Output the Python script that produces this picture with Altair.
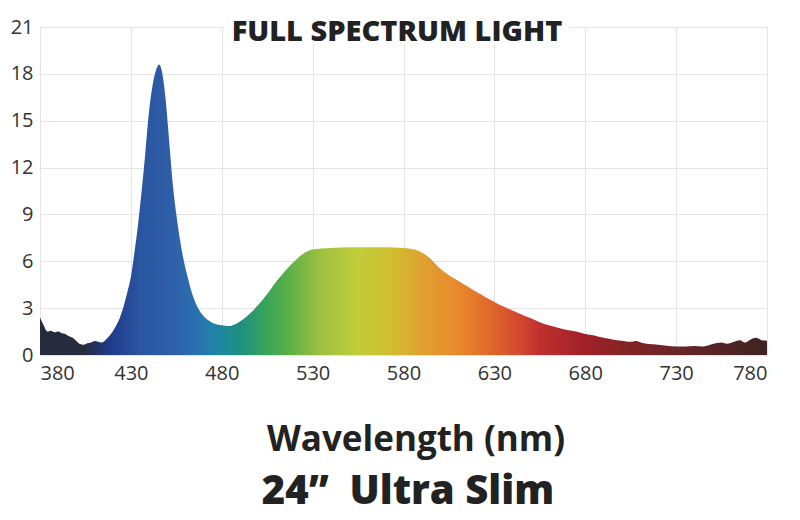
import altair as alt
import pandas as pd

# Spectrum
wavelength = [380, 382, 384, 386, 388, 390, 392, 394, 396, 398, 400, 402, 404, 406, 408,
              410, 412, 414, 416, 418, 420, 422, 424, 426, 428, 430, 432, 434, 436, 438,
              440, 442, 444, 445.5, 447, 449, 451, 453, 455, 457, 459, 461, 463, 465, 467,
              470, 473, 476, 480, 484, 488, 492, 496, 500, 505, 510, 515, 520, 525, 530,
              540, 550, 560, 570, 580, 586, 591, 595, 600, 605, 610, 615, 620, 625, 630,
              635, 640, 645, 650, 655, 660, 665, 670, 675, 680, 685, 690, 695, 700, 705,
              708, 711, 715, 720, 725, 730, 735, 740, 745, 750, 755, 758, 762, 765, 768,
              771, 774, 777, 780]
intensity = [2.4, 1.9, 1.5, 1.55, 1.45, 1.5, 1.4, 1.35, 1.2, 1.1, 0.9, 0.7, 0.65, 0.75, 0.8,
             0.9, 0.85, 0.8, 0.95, 1.2, 1.5, 1.9, 2.4, 3.1, 4.0, 5.0, 6.6, 8.4, 10.6, 13.0,
             15.6, 17.3, 18.3, 18.6, 18.2, 16.5, 13.8, 11.0, 9.0, 7.4, 6.1, 5.1, 4.2, 3.5, 3.0,
             2.5, 2.2, 2.0, 1.9, 1.85, 2.0, 2.3, 2.7, 3.2, 3.9, 4.7, 5.4, 6.0, 6.5, 6.75,
             6.85, 6.9, 6.9, 6.9, 6.85, 6.75, 6.5, 6.15, 5.55, 5.1, 4.75, 4.4, 4.05, 3.72, 3.4,
             3.1, 2.85, 2.6, 2.35, 2.1, 1.9, 1.75, 1.6, 1.5, 1.35, 1.25, 1.1, 1.0, 0.92, 0.85,
             0.9, 0.78, 0.7, 0.66, 0.6, 0.55, 0.55, 0.58, 0.55, 0.7, 0.8, 0.72, 0.85, 0.95, 0.8,
             1.0, 1.1, 0.95, 0.92]

x_ticks = [380, 430, 480, 530, 580, 630, 680, 730, 780]
y_ticks = [0, 3, 6, 9, 12, 15, 18, 21]

# Colour of the fill along the wavelength axis
stop_nm = [380, 405, 418, 435, 453, 466, 477, 490, 505, 517, 535, 554, 572, 591, 609, 627, 646, 655, 680, 700, 730, 760, 780]
stop_col = ["#262b3d", "#262b3d", "#1e3a8a", "#2a55a0", "#2f5fa8", "#2a70b0", "#1f85a5", "#1e9080",
            "#3aa558", "#5cb047", "#a0c040", "#bfcd3a", "#cfc030", "#e0a030", "#e88a2c", "#e06a2a",
            "#d04430", "#c0302e", "#a02028", "#862424", "#6a2424", "#502424", "#3e2222"]

df = pd.DataFrame({"wavelength": wavelength, "intensity": intensity})

FONT = "Open Sans"

gradient = alt.Gradient(
    gradient="linear",
    stops=[alt.GradientStop(color=c, offset=(n - 380) / 400) for n, c in zip(stop_nm, stop_col)],
    x1=0, x2=1, y1=1, y2=1,
)

area = alt.Chart(df).mark_area(color=gradient, interpolate="monotone").encode(
    x=alt.X("wavelength:Q", scale=alt.Scale(domain=[380, 780], nice=False, zero=False),
            axis=alt.Axis(values=x_ticks, title=None, grid=True, gridColor="#e4e4e4", gridWidth=1,
                          domain=False, ticks=False, labelFontSize=20, labelColor="#333333",
                          labelFont=FONT, labelPadding=8, format="d")),
    y=alt.Y("intensity:Q", scale=alt.Scale(domain=[0, 21], nice=False),
            axis=alt.Axis(values=y_ticks, title=None, grid=True, gridColor="#e4e4e4", gridWidth=1,
                          domain=False, ticks=False, labelFontSize=20, labelColor="#333333",
                          labelFont=FONT, labelPadding=7, format="d")),
)

one = alt.Data(values=[{"k": 1}])

title_bg = alt.Chart(one).mark_rect(color="white").encode(
    x=alt.value(184), x2=alt.value(529), y=alt.value(-12), y2=alt.value(17)
)
title = alt.Chart(one).mark_text(font=FONT, fontSize=29, fontWeight=800, color="#222222",
                                 baseline="middle", align="center").encode(
    x=alt.value(357), y=alt.value(5), text=alt.value("FULL SPECTRUM LIGHT")
)
xlabel = alt.Chart(one).mark_text(font=FONT, fontSize=35, fontWeight="bold", color="#222222",
                                  baseline="middle", align="center").encode(
    x=alt.value(376), y=alt.value(413), text=alt.value("Wavelength (nm)")
)
model = alt.Chart(one).mark_text(font=FONT, fontSize=40, fontWeight=800, color="#222222",
                                 baseline="middle", align="center").encode(
    x=alt.value(368), y=alt.value(465), text=alt.value("24\u201d\u00a0 Ultra Slim")
)

chart = alt.layer(area, title_bg, title, xlabel, model).properties(
    width=727, height=328,
    padding={"left": 40, "top": 27, "right": 33, "bottom": 165},
    autosize=alt.AutoSizeParams(type="none"),
    background="white",
).configure_view(stroke=None)

chart.save("out.html", embed_options={"renderer": "svg", "actions": False})
